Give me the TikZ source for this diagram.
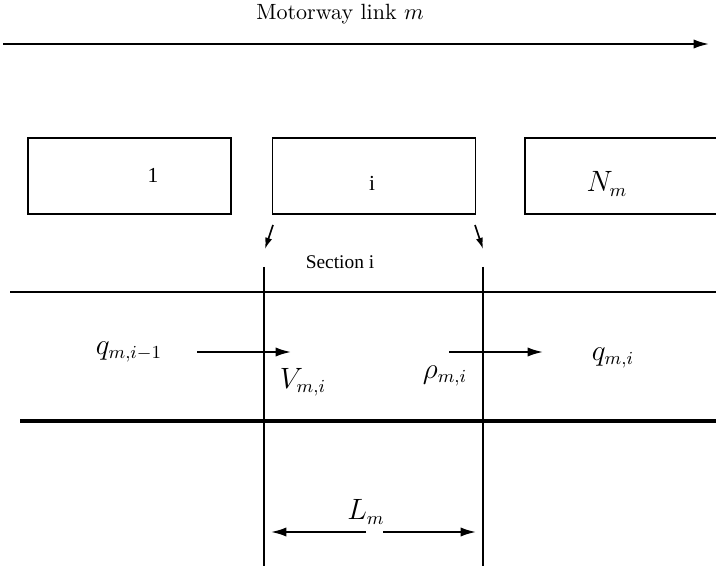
\documentclass[tikz,border=0pt]{standalone}
\usepackage{fontspec}
\newfontfamily\timesf{Liberation Serif}
\usetikzlibrary{arrows.meta}
\begin{document}
\begin{tikzpicture}[x=0.49pt,y=-0.49pt,
  seg/.style={draw,line width=0.8pt,minimum width=203*0.49pt,minimum height=76*0.49pt,inner sep=0pt},
  thin/.style={line width=0.85pt},
  arr/.style={line width=0.9pt,-{Latex[length=7.5pt,width=4.5pt]}},
  sarr/.style={line width=0.8pt,-{Latex[length=5.5pt,width=3.5pt]}},
  mlab/.style={inner sep=0pt,font=\fontsize{13.5}{15}\selectfont},
  tlab/.style={inner sep=0pt,font=\timesf\fontsize{9.5}{11}\selectfont}]
\useasboundingbox (0,0) rectangle (716,568);
% title and link arrow
\node[inner sep=0pt,font=\fontsize{10.8}{13}\selectfont] (title) at (340,14) {Motorway link $m$};
\coordinate (ls) at (3,44);
\coordinate (le) at (709,44);
\draw[arr] (ls) -- (le);
% segments
\node[seg] (s1) at (129.5,176) {};
\node[inner sep=0pt,font=\timesf\fontsize{10.5}{12}\selectfont] (l1) at (153,175) {1};
\node[seg] (si) at (374,176) {};
\node[inner sep=0pt,font=\timesf\fontsize{10.5}{12}\selectfont] (li) at (372,183) {i};
\draw[line width=0.8pt] (716,138) -- (525,138) -- (525,214) -- (716,214);
\node[mlab] (lN) at (607,184) {$N_m$};
% small arrows to section boundaries
\coordinate (a1s) at (273,225);
\coordinate (a1e) at (265,249);
\coordinate (a2s) at (475,225);
\coordinate (a2e) at (483,249);
\draw[sarr] (a1s) -- (a1e);
\draw[sarr] (a2s) -- (a2e);
\node[tlab] (sec) at (340,262) {Section i};
% road lines
\coordinate (r1s) at (10,292);
\coordinate (r1e) at (716,292);
\draw[thin] (r1s) -- (r1e);
\coordinate (r2s) at (20,421);
\coordinate (r2e) at (716,421);
\draw[line width=2pt] (r2s) -- (r2e);
% section boundaries
\coordinate (b1t) at (264,267);
\coordinate (b1b) at (264,566);
\coordinate (b2t) at (483,267);
\coordinate (b2b) at (483,566);
\draw[thin] (b1t) -- (b1b);
\draw[thin] (b2t) -- (b2b);
% flows
\node[mlab] (qin) at (129,352) {$q_{m,i-1}$};
\coordinate (f1s) at (197,352);
\coordinate (f1e) at (291,352);
\draw[arr] (f1s) -- (f1e);
\node[mlab] (V) at (303,382) {$V_{m,i}$};
\node[mlab] (rho) at (445,376) {$\rho_{m,i}$};
\coordinate (f2s) at (449,352);
\coordinate (f2e) at (543,352);
\draw[arr] (f2s) -- (f2e);
\node[mlab] (qout) at (613,358) {$q_{m,i}$};
% length
\node[mlab] (L) at (366,512) {$L_m$};
\coordinate (d1s) at (366,532);
\coordinate (d1e) at (271,532);
\coordinate (d2s) at (383,532);
\coordinate (d2e) at (476,532);
\draw[arr] (d1s) -- (d1e);
\draw[arr] (d2s) -- (d2e);
\end{tikzpicture}
\end{document}
